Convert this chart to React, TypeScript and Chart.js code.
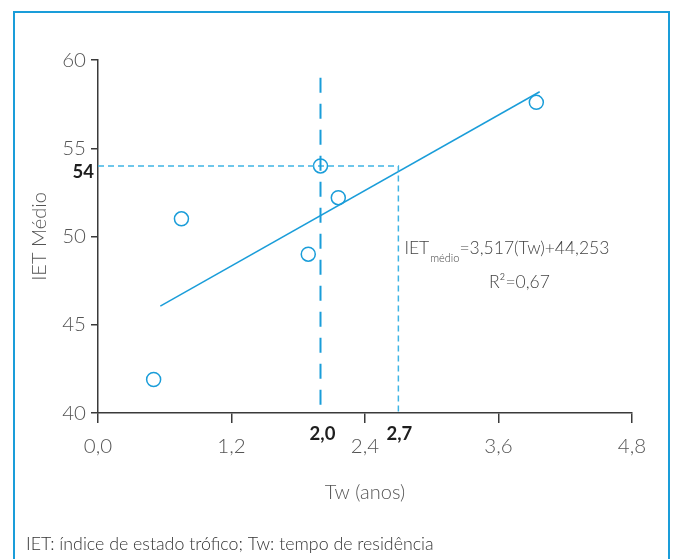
import React, { useEffect, useRef } from "react";
import { Chart, registerables } from "chart.js";

Chart.register(...registerables);

// ---- data ----
const twValues = [0.5, 0.75, 1.89, 2.0, 2.16, 3.94];
const ietValues = [41.9, 51.0, 49.0, 54.0, 52.2, 57.6];
const fitX = [0.56, 3.97];
const fitY = [46.05, 58.2];
const refTw = 2.0;
const refTop = 59;
const refIet = 54;
const crossTw = 2.7;
const xTickValues = [0, 1.2, 2.4, 3.6, 4.8];
const yMin = 40;
const yMax = 60;
const yStep = 5;
const refLabels = ["54", "2,0", "2,7"];
const eqParts = ["IET", "médio", "=3,517(Tw)+44,253"];
const r2Text = "R²=0,67";
const xTitle = "Tw (anos)";
const yTitle = "IET Médio";
const footer = "IET: índice de estado trófico; Tw: tempo de residência";

const BLUE = "#1a9dd9";
const LIGHT_BLUE = "#3fb4e4";
const AXIS = "#3a3a3a";
const GRAY = "#555555";
const FONT = "Lato";

const fmt = (v: number) => v.toFixed(1).replace(".", ",");

const overlay = {
  id: "overlay",
  beforeDraw(chart: any) {
    const ctx = chart.ctx;
    ctx.save();
    ctx.strokeStyle = BLUE;
    ctx.lineWidth = 2;
    ctx.strokeRect(14, 12, 655, 620);
    ctx.restore();
  },
  afterDraw(chart: any) {
    const ctx = chart.ctx;
    const xs = chart.scales.x;
    const ys = chart.scales.y;
    ctx.save();
    // bold reference labels
    ctx.fillStyle = "#1e1e1e";
    ctx.font = `bold 18.5px ${FONT}`;
    ctx.textBaseline = "alphabetic";
    ctx.textAlign = "right";
    ctx.fillText(refLabels[0], xs.left - 4, ys.getPixelForValue(refIet) + 12.5);
    ctx.textAlign = "center";
    ctx.fillText(refLabels[1], xs.getPixelForValue(refTw) + 2, ys.bottom + 27);
    ctx.fillText(refLabels[2], xs.getPixelForValue(crossTw) + 1, ys.bottom + 27);

    // equation
    ctx.fillStyle = "#444";
    ctx.textAlign = "left";
    let x = xs.getPixelForValue(crossTw) + 6;
    const base = ys.getPixelForValue(50) + 17;
    ctx.font = `300 17.5px ${FONT}`;
    ctx.fillText(eqParts[0], x, base);
    x += ctx.measureText(eqParts[0]).width + 1;
    ctx.font = `300 11px ${FONT}`;
    ctx.fillText(eqParts[1], x, base + 8);
    x += ctx.measureText(eqParts[1]).width;
    ctx.font = `300 17.5px ${FONT}`;
    ctx.fillText(eqParts[2], x, base);
    ctx.textAlign = "center";
    ctx.fillText(r2Text, xs.getPixelForValue(crossTw) + 121, base + 34);

    // footer
    ctx.fillStyle = "#333";
    ctx.textAlign = "left";
    ctx.font = `300 17.8px ${FONT}`;
    ctx.fillText(footer, 26, 550);
    ctx.restore();
  },
};

export default function App() {
  const ref = useRef<HTMLCanvasElement>(null);
  useEffect(() => {
    if (!ref.current) return;
    const chart = new Chart(ref.current, {
      type: "scatter",
      data: {
        datasets: [
          {
            data: [
              { x: refTw, y: refTop },
              { x: refTw, y: yMin },
            ],
            showLine: true,
            borderColor: BLUE,
            borderWidth: 2,
            borderDash: [15, 11],
            pointRadius: 0,
          },
          {
            data: [
              { x: 0, y: refIet },
              { x: crossTw, y: refIet },
              { x: crossTw, y: yMin },
            ],
            showLine: true,
            borderColor: LIGHT_BLUE,
            borderWidth: 1.5,
            borderDash: [6, 4],
            pointRadius: 0,
          },
          {
            data: fitX.map((v, i) => ({ x: v, y: fitY[i] })),
            showLine: true,
            borderColor: BLUE,
            borderWidth: 1.5,
            pointRadius: 0,
          },
          {
            data: twValues.map((v, i) => ({ x: v, y: ietValues[i] })),
            pointRadius: 7,
            pointBorderWidth: 1.5,
            pointBorderColor: BLUE,
            pointBackgroundColor: "rgba(0,0,0,0)",
            showLine: false,
          },
        ],
      },
      options: {
        animation: false,
        responsive: false,
        events: [],
        layout: { padding: { left: 0, top: 60, right: 41, bottom: 0 } },
        plugins: { legend: { display: false }, tooltip: { enabled: false } },
        scales: {
          x: {
            type: "linear",
            min: 0,
            max: 4.8,
            afterBuildTicks: (s: any) => {
              s.ticks = xTickValues.map((v) => ({ value: v }));
            },
            afterFit: (s: any) => {
              s.height = 146;
            },
            ticks: {
              callback: (v: any) => fmt(Number(v)),
              color: GRAY,
              font: { family: FONT, size: 20.5, weight: "300" },
              padding: 11,
            },
            grid: {
              drawOnChartArea: false,
              drawTicks: true,
              tickLength: 10,
              color: AXIS,
              lineWidth: 1.5,
            },
            border: { display: true, color: AXIS, width: 1.5 },
            title: {
              display: true,
              text: xTitle,
              color: GRAY,
              font: { family: FONT, size: 20, weight: "300" },
              padding: { top: 0, bottom: 54 },
            },
          },
          y: {
            type: "linear",
            min: yMin,
            max: yMax,
            afterFit: (s: any) => {
              s.width = 98;
            },
            ticks: {
              stepSize: yStep,
              color: GRAY,
              font: { family: FONT, size: 20.5, weight: "300" },
              padding: 5,
            },
            grid: {
              drawOnChartArea: false,
              drawTicks: true,
              tickLength: 7,
              color: AXIS,
              lineWidth: 1.5,
            },
            border: { display: true, color: AXIS, width: 1.5 },
            title: {
              display: true,
              text: yTitle,
              color: GRAY,
              font: { family: FONT, size: 20, weight: "300" },
              padding: { top: 28, bottom: 0 },
            },
          },
        },
      },
      plugins: [overlay],
    } as any);
    return () => chart.destroy();
  }, []);
  return (
    <div style={{ position: "absolute", left: 0, top: 0, width: 673, height: 559, background: "#fff" }}>
      <canvas ref={ref} width={673} height={559} style={{ display: "block" }} />
    </div>
  );
}
